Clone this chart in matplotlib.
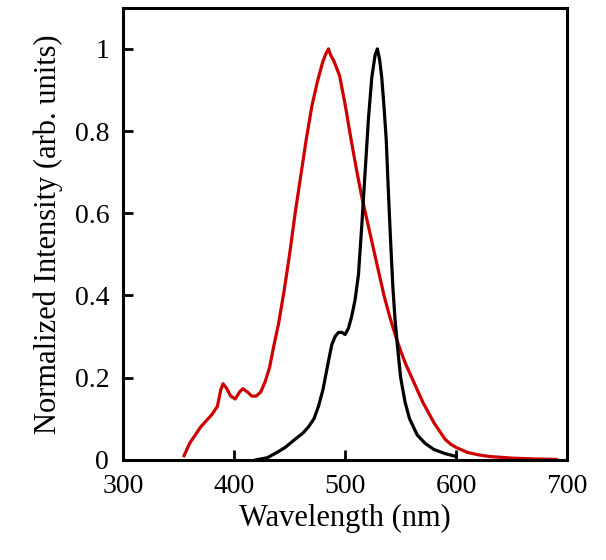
import matplotlib
matplotlib.use("Agg")
import matplotlib.pyplot as plt

plt.rcParams['font.family'] = ['Liberation Serif', 'DejaVu Serif']

# red spectrum
wl_red = [355, 360, 365, 370, 375, 380, 385, 388, 390, 393, 397, 401, 405, 408, 412, 416, 420,
          424, 428, 432, 436, 440, 445, 450, 455, 460, 465, 470, 475, 480, 483, 485, 487, 490,
          495, 500, 505, 510, 515, 520, 525, 530, 535, 540, 545, 550, 555, 560, 565, 570, 575,
          580, 585, 590, 595, 600, 610, 620, 630, 640, 650, 670, 690]
int_red = [0.01, 0.04, 0.06, 0.08, 0.095, 0.11, 0.13, 0.17, 0.185, 0.175, 0.155, 0.148, 0.165,
           0.173, 0.165, 0.155, 0.155, 0.165, 0.19, 0.225, 0.28, 0.33, 0.41, 0.5, 0.6, 0.69,
           0.78, 0.86, 0.92, 0.97, 0.99, 1.0, 0.985, 0.97, 0.935, 0.865, 0.785, 0.71, 0.64,
           0.58, 0.52, 0.46, 0.4, 0.35, 0.305, 0.265, 0.23, 0.2, 0.17, 0.14, 0.115, 0.09, 0.07,
           0.05, 0.038, 0.03, 0.018, 0.012, 0.008, 0.006, 0.004, 0.002, 0.001]

# black spectrum
wl_blk = [420, 430, 440, 446, 455, 462, 467, 472, 476, 480, 485, 488, 491, 494, 497, 500, 503,
          506, 509, 512, 515, 518, 521, 524, 527, 529, 531, 533, 535, 537, 539, 541, 543, 545,
          547, 550, 554, 558, 565, 572, 580, 590, 600]
int_blk = [0.0, 0.005, 0.02, 0.03, 0.05, 0.065, 0.08, 0.1, 0.13, 0.17, 0.24, 0.28, 0.3, 0.31,
           0.31, 0.305, 0.32, 0.35, 0.39, 0.45, 0.57, 0.7, 0.83, 0.93, 0.985, 1.0, 0.975,
           0.93, 0.86, 0.78, 0.65, 0.53, 0.42, 0.34, 0.28, 0.2, 0.14, 0.1, 0.06, 0.04, 0.025,
           0.015, 0.008]

fig = plt.figure(figsize=(6.06, 5.6), dpi=100)
ax = fig.add_axes([0.203, 0.179, 0.733, 0.807])

ax.plot(wl_red, int_red, color='#cc0000', lw=2.3)
ax.plot(wl_blk, int_blk, color='black', lw=2.3)

ax.set_xlim(300, 700)
ax.set_ylim(0, 1.1)
ax.set_xticks([300, 400, 500, 600, 700])
ax.set_yticks([0, 0.2, 0.4, 0.6, 0.8, 1.0])
ax.set_yticklabels(['0', '0.2', '0.4', '0.6', '0.8', '1'])
ax.tick_params(direction='in', length=7, width=2, labelsize=20, pad=10,
               top=False, right=False)
for s in ax.spines.values():
    s.set_linewidth(2.2)

ax.set_xlabel('Wavelength (nm)', fontsize=22, labelpad=4)
ax.set_ylabel('Normalized Intensity (arb. units)', fontsize=22, labelpad=8)

fig.savefig('out.png', dpi=100)
